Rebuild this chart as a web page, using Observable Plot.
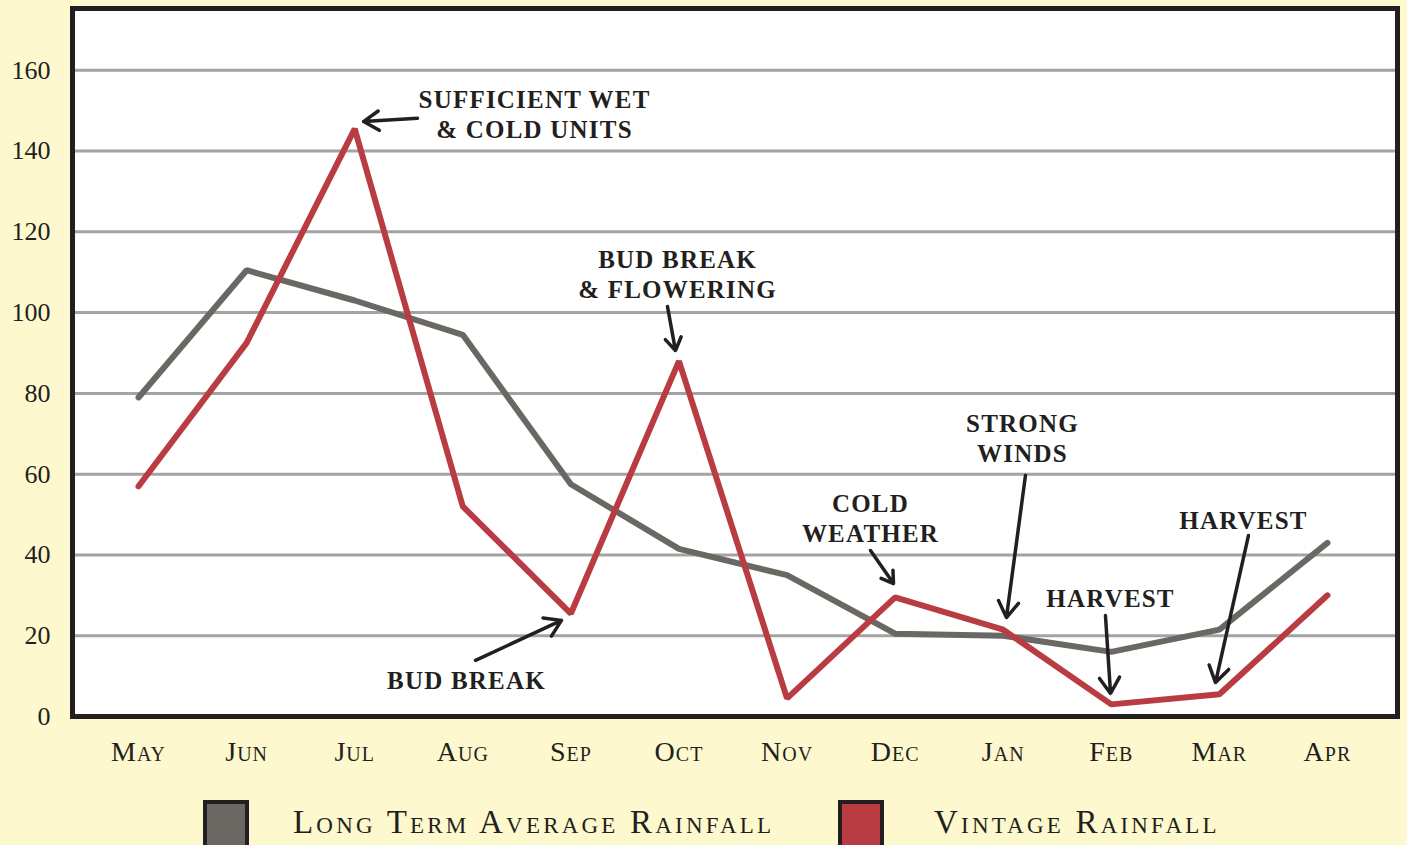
<!DOCTYPE html>
<html><head><meta charset="utf-8">
<script src="https://cdn.jsdelivr.net/npm/d3@7"></script>
<script src="https://cdn.jsdelivr.net/npm/@observablehq/plot@0.6"></script>
<style>
html,body{margin:0;padding:0;background:#fdf8cd;}
#wrap{position:relative;width:1407px;height:845px;overflow:hidden;background:#fdf8cd;}
#chart svg{display:block;}
#chart g[aria-label="x-axis tick label"] text{font-variant:small-caps;letter-spacing:1px;}
#chart g[aria-label="text"] text{letter-spacing:1.2px;}
.lg-box{position:absolute;top:800px;width:38px;height:46px;border:4px solid #231f20;}
.lg-text{position:absolute;top:801px;font-family:'Liberation Serif',serif;font-variant:small-caps;font-size:33px;color:#231f20;line-height:42px;letter-spacing:3.2px;}
</style></head><body>
<div id="wrap"><div id="chart"></div>
<div class="lg-box" style="left:203px;background:#6b6762;"></div>
<div class="lg-text" style="left:293px;">Long Term Average Rainfall</div>
<div class="lg-box" style="left:838px;background:#b83c42;"></div>
<div class="lg-text" style="left:934px;">Vintage Rainfall</div>
</div>
<script>
const months = ["May","Jun","Jul","Aug","Sep","Oct","Nov","Dec","Jan","Feb","Mar","Apr"];
const longTerm = [79, 110.5, 103, 94.5, 57.5, 41.5, 35, 20.5, 20, 16, 21.5, 43];
const vintage = [57, 92.5, 145.5, 52, 25.5, 88, 4.5, 29.5, 21.5, 3, 5.5, 30];
const yTicks = [0, 20, 40, 60, 80, 100, 120, 140, 160];
const gridTicks = [20, 40, 60, 80, 100, 120, 140, 160];

// annotations in data units (x = month index, y = rainfall)
const noteText = ["SUFFICIENT WET\n& COLD UNITS", "BUD BREAK\n& FLOWERING", "BUD BREAK", "COLD\nWEATHER", "STRONG\nWINDS", "HARVEST", "HARVEST"];
const noteX = [3.664, 4.987, 3.034, 6.772, 8.178, 8.993, 10.223];
const noteY = [149.3, 109.7, 9.2, 49.3, 69.1, 29.5, 48.8];
const arrowX1 = [2.581, 4.894, 3.118, 6.772, 8.206, 8.946, 10.269];
const arrowY1 = [148.1, 101.5, 13.9, 41.1, 59.7, 25.0, 44.8];
const arrowX2 = [2.082, 4.968, 3.913, 6.985, 8.030, 8.993, 9.964];
const arrowY2 = [147.3, 90.6, 23.8, 32.9, 24.5, 5.7, 8.4];

const longData = months.map((m, i) => ({i, v: longTerm[i]}));
const vintData = months.map((m, i) => ({i, v: vintage[i]}));
const notes = noteText.map((t, k) => ({t, x: noteX[k], y: noteY[k]}));
const arrows = arrowX1.map((_, k) => ({x1: arrowX1[k], y1: arrowY1[k], x2: arrowX2[k], y2: arrowY2[k]}));

const ink = "#231f20";
const chart = Plot.plot({
  width: 1407, height: 785,
  marginLeft: 72, marginRight: 10, marginTop: 8, marginBottom: 69,
  x: {type: "linear", domain: [-0.611, 11.648]},
  y: {domain: [0, 175.3]},
  style: {background: "transparent", fontFamily: "'Liberation Serif', serif", color: ink},
  marks: [
    Plot.frame({fill: "white", stroke: null}),
    Plot.gridY(gridTicks, {stroke: "#a3a3a5", strokeWidth: 3, strokeOpacity: 1}),
    Plot.axisY(yTicks, {tickSize: 0, tickPadding: 22, fontSize: 26, label: null, fill: ink}),
    Plot.axisX(d3.range(12), {tickSize: 0, tickPadding: 25, fontSize: 28, label: null, fill: ink, tickFormat: i => months[i]}),
    Plot.line(longData, {x: "i", y: "v", stroke: "#6b6762", strokeWidth: 6, strokeLinecap: "round", strokeLinejoin: "miter"}),
    Plot.line(vintData, {x: "i", y: "v", stroke: "#b83c42", strokeWidth: 6, strokeLinecap: "round", strokeLinejoin: "miter"}),
    Plot.arrow(arrows, {x1: "x1", y1: "y1", x2: "x2", y2: "y2", stroke: ink, strokeWidth: 3.5, headLength: 8, headAngle: 65, strokeLinecap: "round"}),
    Plot.text(notes, {x: "x", y: "y", text: "t", fontSize: 25, fontWeight: "bold", lineHeight: 1.2, fill: ink}),
    Plot.frame({stroke: ink, strokeWidth: 5})
  ]
});
document.getElementById("chart").append(chart);
</script>
</body></html>
